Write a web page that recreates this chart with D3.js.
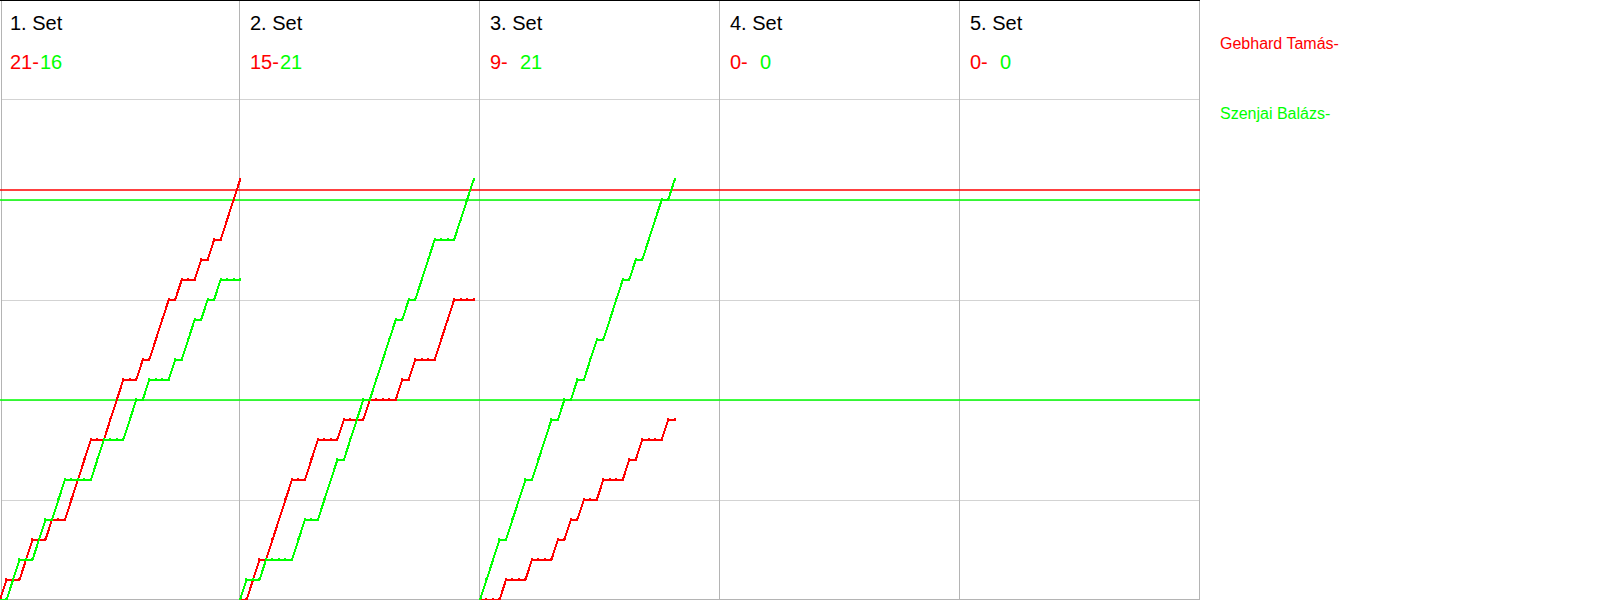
<!DOCTYPE html>
<html>
<head>
<meta charset="utf-8">
<script src="https://cdn.jsdelivr.net/npm/d3@7/dist/d3.min.js"></script>
<style>
body { margin: 0; background: #fff; }
text { font-family: "Liberation Sans", Arial, sans-serif; }
</style>
</head>
<body>
<div id="chart"></div>
<script>
// players, first one is red, second one green
const players = ["Gebhard Tamás", "Szenjai Balázs"];
const playerColors = ["#ff0000", "#00ff00"];

const setTitles = ["1. Set", "2. Set", "3. Set", "4. Set", "5. Set"];
const setScores = [[21, 16], [15, 21], [9, 21], [0, 0], [0, 0]];

// rally winners per set (0 = red player, 1 = green player)
const set1Rallies = [0,1,1,0,0,1,1,0,1,1,0,0,0,0,1,1,0,0,0,1,1,0,1,0,0,0,1,0,1,1,0,1,0,1,0,0,0];
const set2Rallies = [1,0,0,1,0,0,0,0,1,1,0,0,1,1,1,0,1,1,1,0,1,1,1,1,0,1,0,1,1,1,0,0,0,1,1,1];
const set3Rallies = [1,1,1,0,1,1,1,0,1,1,1,0,1,0,1,0,1,1,0,1,1,1,0,1,0,1,1,1,0,1];
const set4Rallies = [];
const set5Rallies = [];
const allRallies = [set1Rallies, set2Rallies, set3Rallies, set4Rallies, set5Rallies];

// horizontal marker lines (score value, player index)
const refLines = [[20.5, 0], [20, 1], [10, 1]];
const gridTicks = [5, 10, 15, 20, 25];

const width = 1600, height = 600;
const plotWidth = 1200, panelWidth = 240;

const svg = d3.select('#chart').append('svg')
    .attr('width', width)
    .attr('height', height);

const panelX = d3.scaleLinear().domain([0, 5]).range([0, plotWidth]);
const maxRallies = d3.max(allRallies, d => d.length);
const x = d3.scaleLinear().domain([0, maxRallies]).range([0, panelWidth]);
const y = d3.scaleLinear().domain([0, 30]).range([height, 0]);

// grid
svg.append("g")
    .selectAll("line")
    .data(gridTicks)
    .enter().append("line")
    .attr("x1", 2).attr("x2", plotWidth)
    .attr("y1", d => Math.floor(y(d)) + 0.5)
    .attr("y2", d => Math.floor(y(d)) + 0.5)
    .attr("stroke", "#d3d3d3");

// panel separators
svg.append("g")
    .selectAll("line")
    .data(d3.range(6))
    .enter().append("line")
    .attr("x1", d => Math.max(2, panelX(d)) - 0.5)
    .attr("x2", d => Math.max(2, panelX(d)) - 0.5)
    .attr("y1", 0).attr("y2", height)
    .attr("stroke", "#b4b4b4");

svg.append("line")
    .attr("x1", 2).attr("x2", plotWidth)
    .attr("y1", height - 0.5).attr("y2", height - 0.5)
    .attr("stroke", "#b4b4b4");

svg.append("line")
    .attr("x1", 0).attr("x2", plotWidth)
    .attr("y1", 0.5).attr("y2", 0.5)
    .attr("stroke", "#000");

// reference lines
svg.append("g")
    .selectAll("line")
    .data(refLines)
    .enter().append("line")
    .attr("x1", 0).attr("x2", plotWidth)
    .attr("y1", d => y(d[0]))
    .attr("y2", d => y(d[0]))
    .attr("stroke", d => playerColors[d[1]])
    .attr("stroke-width", 1.5);

// score progressions
allRallies.forEach(function(rallies, k) {
    if (!rallies.length) return;
    const score = [0, 0];
    const pts = [{i: 0, s: [0, 0]}];
    rallies.forEach(function(w, i) {
        score[w]++;
        pts.push({i: i + 1, s: score.slice()});
    });
    const g = svg.append("g").attr("transform", "translate(" + panelX(k) + ",0)");
    [0, 1].forEach(function(p) {
        const line = d3.line()
            .x(d => x(d.i))
            .y(d => y(d.s[p]));
        g.append("path")
            .datum(pts)
            .attr("fill", "none")
            .attr("stroke", playerColors[p])
            .attr("stroke-width", 2)
            .attr("shape-rendering", "crispEdges")
            .attr("d", line);
        g.append("g")
            .selectAll("rect")
            .data(pts.slice(1))
            .enter().append("rect")
            .attr("x", d => x(d.i) - 1)
            .attr("y", d => y(d.s[p]) - 2)
            .attr("width", 2)
            .attr("height", 3)
            .attr("fill", playerColors[p])
            .attr("shape-rendering", "crispEdges");
    });
});

// titles and set scores
const heads = svg.append("g")
    .selectAll("g")
    .data(setTitles)
    .enter().append("g")
    .attr("transform", (d, i) => "translate(" + panelX(i) + ",0)");

heads.append("text")
    .attr("x", 10).attr("y", 30)
    .attr("font-size", 20)
    .attr("fill", "#000")
    .text(d => d);

heads.append("text")
    .attr("x", 10).attr("y", 69)
    .attr("font-size", 20)
    .attr("fill", playerColors[0])
    .text((d, i) => setScores[i][0] + "-");

heads.append("text")
    .attr("x", 40).attr("y", 69)
    .attr("font-size", 20)
    .attr("fill", playerColors[1])
    .text((d, i) => setScores[i][1]);

// legend
svg.append("g")
    .selectAll("text")
    .data(players)
    .enter().append("text")
    .attr("x", 1220)
    .attr("y", (d, i) => 49 + i * 70)
    .attr("font-size", 16)
    .attr("fill", (d, i) => playerColors[i])
    .text(d => d + "-");
</script>
</body>
</html>
